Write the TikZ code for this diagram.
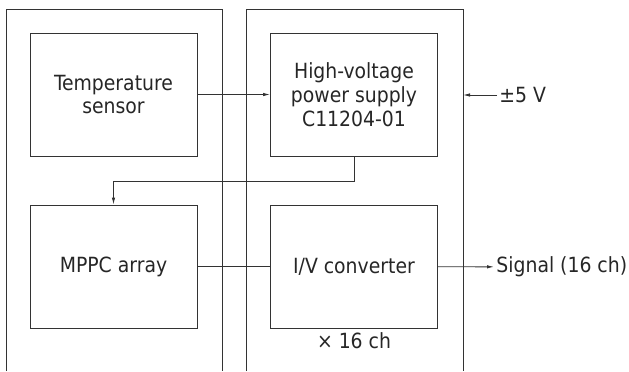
\documentclass[tikz,border=0pt]{standalone}
\usepackage{fontspec}
\setmainfont{DejaVu Sans Condensed}
\usetikzlibrary{arrows.meta, positioning}

\begin{document}
\begin{tikzpicture}[
  x=1bp, y=-1bp,
  line width=0.9bp, draw=black!80,
  every node/.style={text=black!85, font=\fontsize{21}{24}\selectfont},
  block/.style={rectangle, draw, minimum width=167bp, minimum height=123bp, align=center},
  sig/.style={-{Latex[length=7bp, width=3.5bp]}}
]
  \useasboundingbox (0,0) rectangle (629,371);
  % open frames
  \draw (6,371) |- (222,9) -- (222,371);
  \draw (246,371) |- (463,9) -- (463,371);
  \coordinate (vin) at (463,95);

  \node[block] (temp) at (113.5,94.5) {Temperature\\sensor};
  \node[block] (hv) at (354,94.5) {High-voltage\\power supply\\C11204-01};
  \node[block] (mppc) at (113.5,266.5) {MPPC array};
  \node[block] (iv) at (354,266.5) {I/V converter};
  \node[below=0bp of iv] (ch) {× 16 ch};

  \node[anchor=west, inner sep=2bp] (pm) at (497,95) {±5 V};
  \node[anchor=west, inner sep=2bp] (out) at (494,267) {Signal (16 ch)};

  \draw[sig] (temp) -- (hv);
  \draw[sig] (hv.south) -- ++(0,25) -| (mppc.north);
  \draw (mppc) -- (iv);
  \draw[sig] (iv) -- (out);
  \draw[sig] (pm) -- (vin);
\end{tikzpicture}
\end{document}
